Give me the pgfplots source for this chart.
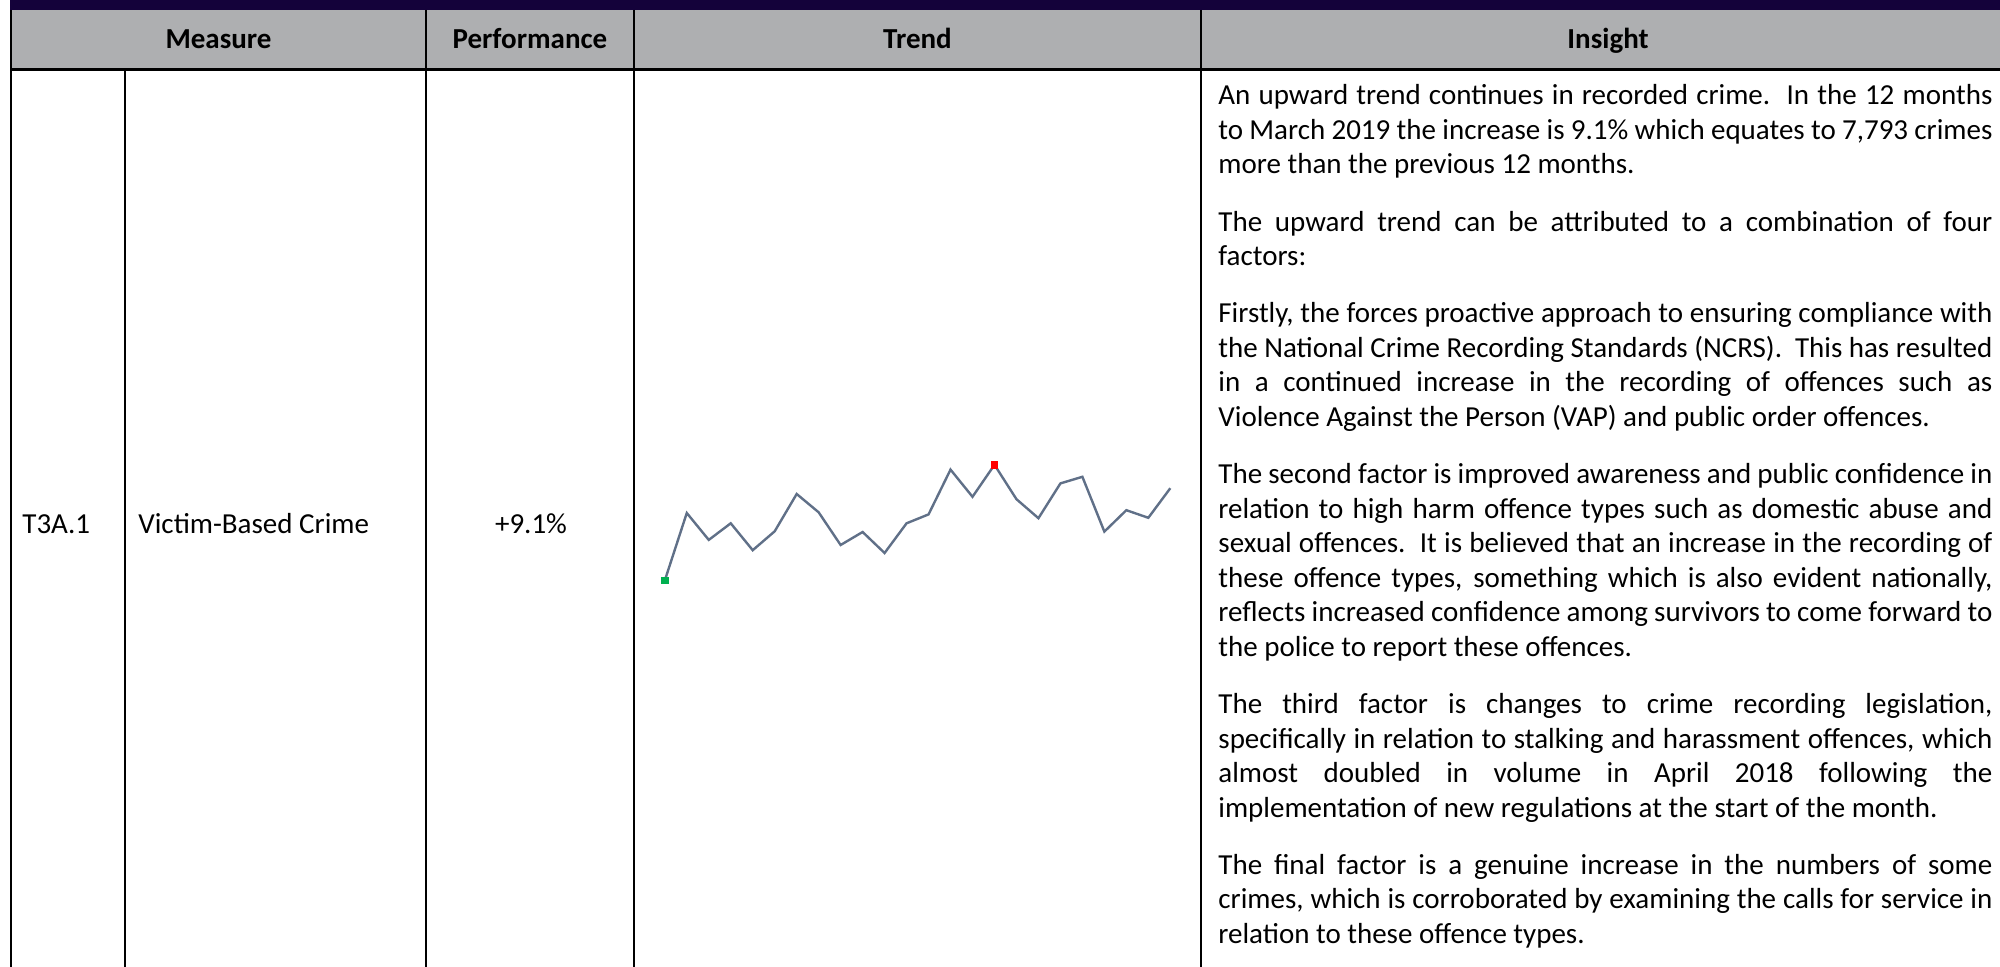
\documentclass[border=0pt]{standalone}
\usepackage{fontspec}
\setmainfont{Carlito}
\usepackage{pgfplots}
\pgfplotsset{compat=1.18}
\definecolor{topbar}{RGB}{20,2,58}
\definecolor{hdr}{RGB}{174,175,177}
\definecolor{spark}{RGB}{96,112,136}
\definecolor{sgreen}{RGB}{0,176,80}
\definecolor{sred}{RGB}{255,0,0}
\pgfplotstableread{
m v
1 19.5
2 87.0
3 60.1
4 76.7
5 49.8
6 68.7
7 106.0
8 87.7
9 55.0
10 68.0
11 47.0
12 76.7
13 85.6
14 130.4
15 103.2
16 135.2
17 100.8
18 81.8
19 116.6
20 123.2
21 68.4
22 89.8
23 82.2
24 111.8
}\sparkdata
\newcommand{\jl}[2]{\node[anchor=base west,inner sep=0pt] at (1218,#1) {\makebox[387pt][s]{#2}};}
\newcommand{\el}[2]{\node[anchor=base west,inner sep=0pt] at (1218,#1) {#2};}
\begin{document}
\fontsize{14.5pt}{17.7pt}\selectfont
\begin{tikzpicture}[x=0.5pt,y=-0.5pt]
\path[use as bounding box] (0,0) rectangle (2000,967);
\fill[topbar] (10,0) rectangle (2000,10.5);
\fill[hdr] (10,10.5) rectangle (2000,69.5);
\draw[line width=1.3pt] (10,69.5) -- (2000,69.5);
\draw[line width=1.3pt] (11,10) -- (11,967);
\draw[line width=1.3pt] (125,69.5) -- (125,967);
\draw[line width=1.3pt] (426,10) -- (426,967);
\draw[line width=1.3pt] (634,10) -- (634,967);
\draw[line width=1.3pt] (1201,10) -- (1201,967);
% header
\node[anchor=base,inner sep=0pt,font=\bfseries] at (218.5,49) {Measure};
\node[anchor=base,inner sep=0pt,font=\bfseries] at (530,49) {Performance};
\node[anchor=base,inner sep=0pt,font=\bfseries] at (917.5,49) {Trend};
\node[anchor=base,inner sep=0pt,font=\bfseries] at (1608,49) {Insight};
% row
\node[anchor=base west,inner sep=0pt] at (22,533) {T3A.1};
\node[anchor=base west,inner sep=0pt] at (138,533) {Victim-Based Crime};
\node[anchor=base,inner sep=0pt] at (531,533) {+9.1\%};
% sparkline
\coordinate (sparkorigin) at (664.8,580.5);
\begin{axis}[at={(sparkorigin)},anchor=south west,scale only axis,
  width=252.75pt,height=57.85pt,xmin=1,xmax=24,ymin=19.5,ymax=135.2,
  hide axis,clip=false]
\addplot[color=spark,line width=1.2pt,line join=miter,mark=none] table[x=m,y=v] {\sparkdata};
\addplot[only marks,mark=square*,mark size=1.6pt,color=sgreen] coordinates {(1,19.5)};
\addplot[only marks,mark=square*,mark size=1.6pt,color=sred] coordinates {(16,135.2)};
\end{axis}
% insight
\jl{105}{An upward trend continues in recorded crime.\ \ In the 12 months}
\jl{139.5}{to March 2019 the increase is 9.1\% which equates to 7,793 crimes}
\el{174}{more than the previous 12 months.}
\jl{231.25}{The upward trend can be attributed to a combination of four}
\el{265.75}{factors:}
\jl{323}{Firstly, the forces proactive approach to ensuring compliance with}
\jl{357.5}{the National Crime Recording Standards (NCRS).\ \ This has resulted}
\jl{392}{in a continued increase in the recording of offences such as}
\el{426.5}{Violence Against the Person (VAP) and public order offences.}
\jl{483.75}{The second factor is improved awareness and public confidence in}
\jl{518.25}{relation to high harm offence types such as domestic abuse and}
\jl{552.75}{sexual offences.\ \ It is believed that an increase in the recording of}
\jl{587.25}{these offence types, something which is also evident nationally,}
\jl{621.75}{reflects increased confidence among survivors to come forward to}
\el{656.25}{the police to report these offences.}
\jl{713.5}{The third factor is changes to crime recording legislation,}
\jl{748}{specifically in relation to stalking and harassment offences, which}
\jl{782.5}{almost doubled in volume in April 2018 following the}
\el{817}{implementation of new regulations at the start of the month.}
\jl{874.25}{The final factor is a genuine increase in the numbers of some}
\jl{908.75}{crimes, which is corroborated by examining the calls for service in}
\el{943.25}{relation to these offence types.}
\end{tikzpicture}
\end{document}
